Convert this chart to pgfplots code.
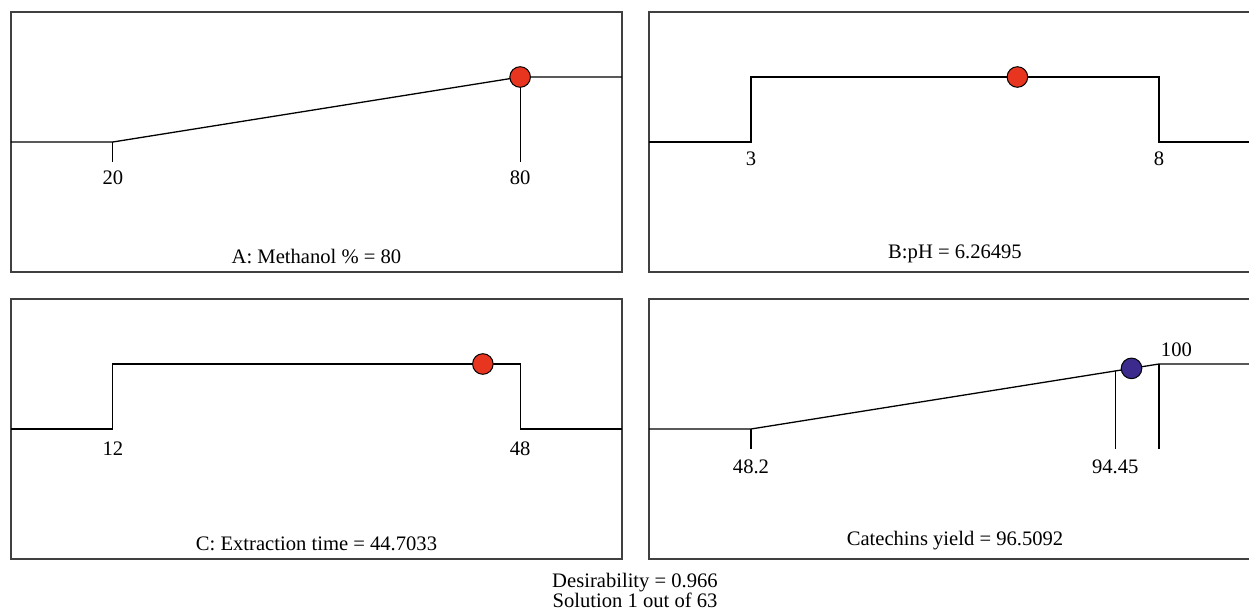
\documentclass[border=0pt]{standalone}
\usepackage{pgfplots}
\pgfplotsset{compat=1.18}
\usepackage{fontspec}
\setmainfont{Liberation Serif}
\newcommand\ff{\fontsize{10.3pt}{12pt}\selectfont}
\definecolor{dotred}{HTML}{E8351F}
\definecolor{dotblue}{HTML}{3C2B8C}
\pgfplotsset{
  panel/.style={
    scale only axis, width=305.5pt, height=130pt,
    anchor=south west,
    ymin=-2, ymax=2,
    xtick=\empty, ytick=\empty,
    clip=false,
    axis line style={line width=1pt, black!75},
    every axis plot/.append style={line width=0.65pt, black},
  },
  dot/.style={only marks, mark=*, mark size=5.15pt,
    mark options={draw=black, line width=0.5pt, fill=#1}},
}
\begin{document}
\begin{tikzpicture}[every node/.append style={font=\ff}]
\useasboundingbox (0,0) rectangle (624.5pt,308pt);
\clip (0,0) rectangle (624.5pt,308pt);
% ---------- A ----------
\begin{axis}[panel, at={(5.5pt,172pt)}, xmin=5, xmax=95]
\addplot[no marks] coordinates {(5,0) (20,0) (80,1) (95,1)};
\addplot[no marks] coordinates {(20,0) (20,-0.31)};
\addplot[no marks] coordinates {(80,1) (80,-0.31)};
\addplot[dot=dotred] coordinates {(80,1)};
\node[anchor=base, inner sep=0pt] at (axis cs:20,-0.66) {20};
\node[anchor=base, inner sep=0pt] at (axis cs:80,-0.66) {80};
\node[anchor=base, inner sep=0pt] at (axis cs:50,-1.87) {A: Methanol \% = 80};
\end{axis}
% ---------- B ----------
\begin{axis}[panel, at={(324.5pt,172pt)}, width=306pt, xmin=1.75, xmax=9.25]
\addplot[no marks] coordinates {(1.75,0) (3,0) (3,1) (8,1) (8,0) (9.25,0)};
\addplot[dot=dotred] coordinates {(6.26495,1)};
\node[anchor=base, inner sep=0pt] at (axis cs:3,-0.357) {3};
\node[anchor=base, inner sep=0pt] at (axis cs:8,-0.357) {8};
\node[anchor=base, inner sep=0pt] at (axis cs:5.5,-1.79) {B:pH = 6.26495};
\end{axis}
% ---------- C ----------
\begin{axis}[panel, at={(5.5pt,28.5pt)}, xmin=3, xmax=57]
\addplot[no marks] coordinates {(3,0) (12,0) (12,1) (48,1) (48,0) (57,0)};
\addplot[dot=dotred] coordinates {(44.7033,1)};
\node[anchor=base, inner sep=0pt] at (axis cs:12,-0.406) {12};
\node[anchor=base, inner sep=0pt] at (axis cs:48,-0.406) {48};
\node[anchor=base, inner sep=0pt] at (axis cs:30,-1.87) {C: Extraction time = 44.7033};
\end{axis}
% ---------- D ----------
\begin{axis}[panel, at={(324.5pt,28.5pt)}, width=306pt, xmin=35.25, xmax=112.95]
\addplot[no marks] coordinates {(35.25,0) (48.2,0) (100,1) (112.95,1)};
\addplot[no marks] coordinates {(48.2,0) (48.2,-0.31)};
\addplot[no marks] coordinates {(94.45,0.8929) (94.45,-0.31)};
\addplot[no marks] coordinates {(100,1) (100,-0.31)};
\addplot[dot=dotblue] coordinates {(96.5092,0.9326)};
\node[anchor=base, inner sep=0pt] at (axis cs:48.2,-0.688) {48.2};
\node[anchor=base, inner sep=0pt] at (axis cs:94.45,-0.688) {94.45};
\node[anchor=base west, inner sep=0pt] at (axis cs:100.2,1.117) {100};
\node[anchor=base, inner sep=0pt] at (axis cs:74.1,-1.79) {Catechins yield = 96.5092};
\end{axis}
\node[anchor=base, inner sep=0pt] at (317.5pt,14pt) {Desirability = 0.966};
\node[anchor=base, inner sep=0pt] at (317.5pt,4pt) {Solution 1 out of 63};
\end{tikzpicture}
\end{document}
